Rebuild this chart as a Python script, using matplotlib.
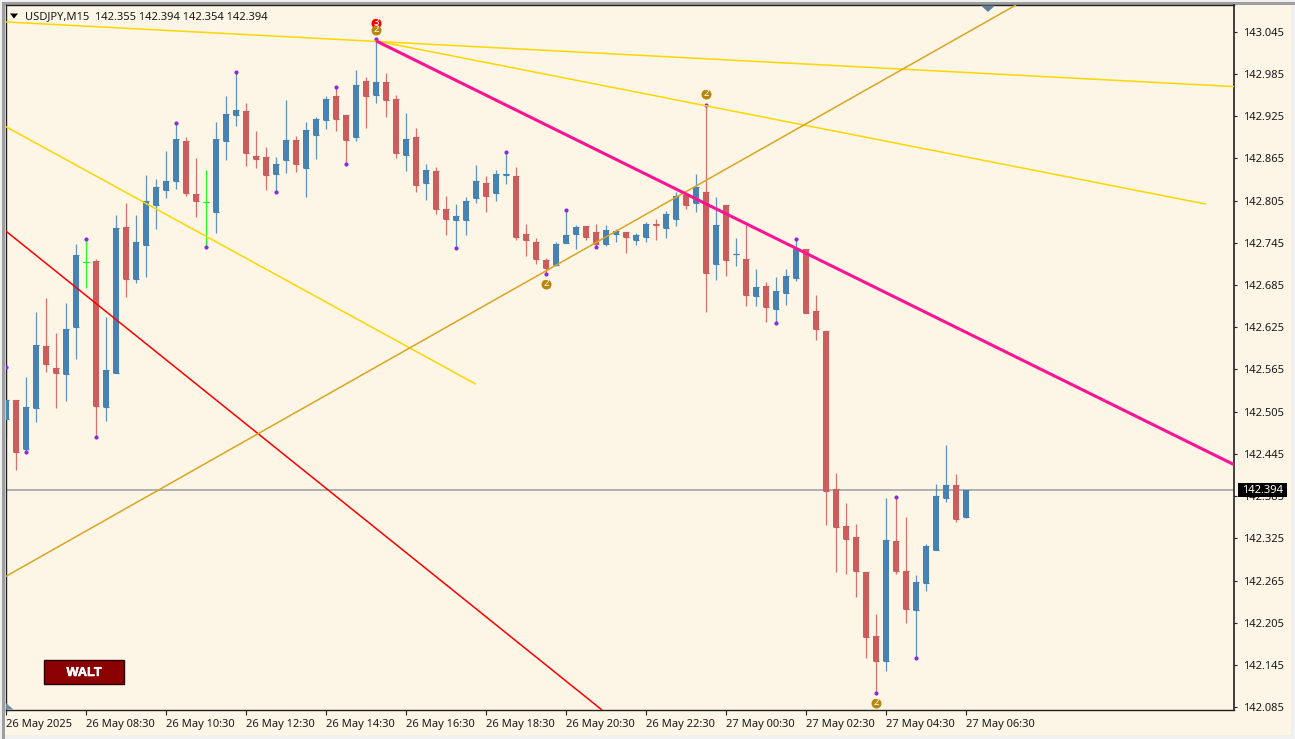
import matplotlib
matplotlib.use("Agg")
import matplotlib.pyplot as plt
import matplotlib.patheffects as pe
from matplotlib.patches import Rectangle, Polygon

W, H = 1295, 739

title_text = "USDJPY,M15  142.355 142.394 142.354 142.394"
last_price = 142.394

opens = [142.495,142.522,142.452,142.510,142.598,142.567,142.559,142.625,142.718,142.719,
         142.512,142.560,142.768,142.694,142.742,142.799,142.820,142.833,142.890,142.815,
         142.803,142.789,142.890,142.927,142.933,142.869,142.867,142.843,142.862,142.891,
         142.852,142.898,142.920,142.953,142.926,142.896,142.975,142.955,142.974,142.950,
         142.870,142.896,142.830,142.847,142.793,142.778,142.778,142.809,142.830,142.816,
         142.842,142.840,142.758,142.746,142.721,142.714,142.745,142.758,142.769,142.761,
         142.744,142.758,142.761,142.749,142.753,142.772,142.766,142.779,142.813,142.802,
         142.817,142.715,142.799,142.729,142.722,142.670,142.684,142.651,142.674,142.695,
         142.736,142.648,142.620,142.395,142.342,142.327,142.277,142.186,142.150,142.321,
         142.278,142.223,142.261,142.308,142.382,142.401,142.355]
highs = [142.569,142.522,142.554,142.647,142.667,142.617,142.660,142.744,142.751,142.722,
         142.640,142.785,142.802,142.785,142.842,142.836,142.876,142.916,142.896,142.866,
         142.849,142.917,142.953,142.988,142.944,142.904,142.881,142.867,142.948,142.897,
         142.917,142.924,142.953,142.967,142.926,142.990,142.980,143.034,142.987,142.955,
         142.930,142.908,142.857,142.853,142.812,142.800,142.810,142.856,142.840,142.849,
         142.874,142.853,142.772,142.752,142.724,142.746,142.792,142.771,142.769,142.772,
         142.771,142.765,142.761,142.759,142.775,142.779,142.790,142.817,142.816,142.843,
         142.941,142.810,142.799,142.752,142.771,142.708,142.689,142.697,142.708,142.751,
         142.736,142.671,142.620,142.418,142.375,142.345,142.277,142.217,142.382,142.384,
         142.355,142.273,142.317,142.402,142.458,142.416,142.394]
lows = [142.468,142.422,142.448,142.490,142.561,142.510,142.520,142.580,142.681,142.469,
        142.492,142.560,142.668,142.688,142.697,142.765,142.808,142.822,142.812,142.782,
        142.739,142.759,142.862,142.911,142.854,142.852,142.820,142.817,142.844,142.846,
        142.810,142.864,142.907,142.904,142.857,142.889,142.908,142.944,142.924,142.866,
        142.847,142.817,142.806,142.786,142.756,142.738,142.756,142.802,142.789,142.805,
        142.829,142.749,142.726,142.715,142.701,142.712,142.745,142.736,142.749,142.739,
        142.741,142.746,142.731,142.742,142.746,142.749,142.752,142.769,142.793,142.789,
        142.647,142.692,142.698,142.712,142.655,142.655,142.633,142.631,142.657,142.691,
        142.645,142.607,142.344,142.277,142.274,142.241,142.155,142.105,142.136,142.274,
        142.204,142.155,142.250,142.308,142.377,142.348,142.354]
closes = [142.522,142.448,142.512,142.600,142.573,142.560,142.623,142.728,142.718,142.513,
          142.564,142.766,142.694,142.746,142.805,142.825,142.833,142.893,142.816,142.805,
          142.803,142.893,142.928,142.934,142.872,142.864,142.842,142.857,142.891,142.857,
          142.906,142.921,142.950,142.921,142.891,142.970,142.954,142.974,142.948,142.872,
          142.893,142.827,142.849,142.793,142.779,142.783,142.805,142.833,142.812,142.843,
          142.843,142.753,142.749,142.722,142.709,142.744,142.756,142.768,142.753,142.744,
          142.763,142.762,142.753,142.756,142.772,142.771,142.786,142.812,142.799,142.825,
          142.702,142.771,142.721,142.729,142.671,142.682,142.654,142.677,142.698,142.736,
          142.645,142.623,142.392,142.341,142.324,142.278,142.185,142.150,142.322,142.278,
          142.224,142.263,142.314,142.385,142.401,142.352,142.394]
green_bars = [8, 20]
high_dots = [0, 8, 17, 23, 33, 37, 50, 56, 70, 79, 89]
low_dots = [2, 9, 20, 27, 34, 45, 54, 59, 77, 87, 91]

# signal badges: bar, price, number, colour name
badges = [(37, 143.058, "3", "red"), (37, 143.048, "2", "gold"), (54, 142.687, "2", "gold"),
          (70, 142.957, "2", "gold"), (87, 142.091, "2", "gold")]

# trend lines: (bar, price), (bar, price), colour, width
trend_lines = [
    ((-0.13, 143.059), (122.9, 142.967), "#FFD700", 1.1),
    ((37, 143.032), (120, 142.800), "#FFD700", 1.1),
    ((-0.13, 142.911), (47, 142.544), "#FFD700", 1.1),
    ((-0.13, 142.763), (59.6, 142.081), "#FF0000", 1.1),
    ((-0.13, 142.270), (101, 143.083), "#DAA520", 1.1),
    ((37, 143.032), (122.9, 142.429), "#FF1493", 2.2),
]

y_ticks = [143.045, 142.985, 142.925, 142.865, 142.805, 142.745, 142.685, 142.625, 142.565,
           142.505, 142.445, 142.385, 142.325, 142.265, 142.205, 142.145, 142.085]
x_ticks = list(range(0, 97, 8))
x_labels = ["26 May 2025", "26 May 08:30", "26 May 10:30", "26 May 12:30", "26 May 14:30",
            "26 May 16:30", "26 May 18:30", "26 May 20:30", "26 May 22:30", "27 May 00:30",
            "27 May 02:30", "27 May 04:30", "27 May 06:30"]

BG = "#FDF5E6"
UP = "#4682B4"
DOWN = "#CD5C5C"
GREEN = "#00FF00"
DOT = "#8A2BE2"
FONT = "Noto Sans"
FS = 8.0


def rect(x0, y0, x1, y1, **kw):
    return Rectangle((x0 / W, 1 - y1 / H), (x1 - x0) / W, (y1 - y0) / H,
                     transform=fig.transFigure, **kw)


fig = plt.figure(figsize=(W / 100, H / 100), dpi=100, facecolor="#F0F0F0")
fig.add_artist(rect(2, 2, W, 5, fc="#9E9E9E", ec="none", zorder=-5))
fig.add_artist(rect(2, 2, 5, H, fc="#9E9E9E", ec="none", zorder=-5))
fig.add_artist(rect(5, 5, 1291, 735, fc=BG, ec="none", zorder=-4))

ax = fig.add_axes([5.5 / W, 1 - 710 / H, (1234 - 5.5) / W, (710 - 5) / H], facecolor=BG, zorder=1)
ax.set_xlim(-0.05, 122.80)
ax.set_ylim(142.081, 143.083)
for s in ax.spines.values():
    s.set_color("#202020")
    s.set_linewidth(1.0)
ax.spines["right"].set_linewidth(1.2)

ax.axhline(last_price, color="#A0A4A8", lw=1.2, zorder=1)

for i, (o, h, l, c) in enumerate(zip(opens, highs, lows, closes)):
    col = GREEN if i in green_bars else (UP if c >= o else DOWN)
    ax.vlines(i, l, h, color=col, lw=0.9, alpha=0.85, zorder=2)
    ax.bar(i, abs(c - o), bottom=min(o, c), width=0.66, color=col, lw=0, zorder=3)
    ax.hlines([o, c], i - 0.33, i + 0.33, color=col, lw=0.8, zorder=3)

ax.scatter(high_dots, [highs[i] for i in high_dots], s=9, color=DOT, lw=0, zorder=4)
ax.scatter(low_dots, [lows[i] for i in low_dots], s=9, color=DOT, lw=0, zorder=4)

for p0, p1, col, lw in trend_lines:
    ax.plot([p0[0], p1[0]], [p0[1], p1[1]], color=col, lw=lw, zorder=5, solid_capstyle="butt")

for bar, price, num, cname in badges:
    fc = "#FF0000" if cname == "red" else "#B8860B"
    ax.scatter([bar], [price], s=52, color=fc, lw=0, zorder=6, clip_on=False)
    ax.text(bar, price, num, color="white", fontsize=7, fontweight="bold", family=FONT,
            ha="center", va="center", zorder=7)

ax.yaxis.tick_right()
ax.set_yticks(y_ticks)
ax.set_yticklabels([f"{v:.3f}" for v in y_ticks], family=FONT, fontsize=FS, color="#1a1a1a")
ax.tick_params(axis="y", length=2.2, width=0.8, pad=4.5, color="#202020")
ax.set_xticks(x_ticks)
ax.set_xticklabels(x_labels, family=FONT, fontsize=FS, color="#1a1a1a", ha="left")
ax.tick_params(axis="x", length=3.5, width=0.8, pad=3.2, color="#202020")

# header
fig.text(25 / W, 1 - 16.5 / H, title_text, family=FONT, fontsize=FS,
         color="#1a1a1a", va="center", ha="left", zorder=8)
fig.add_artist(Polygon([(10 / W, 1 - 13.5 / H), (18 / W, 1 - 13.5 / H), (14 / W, 1 - 18.5 / H)],
                       closed=True, transform=fig.transFigure, fc="black", ec="none", zorder=8))
# small chart shift markers
fig.add_artist(Polygon([(981 / W, 1 - 5.5 / H), (995 / W, 1 - 5.5 / H), (988 / W, 1 - 12 / H)],
                       closed=True, transform=fig.transFigure, fc="#5F7F99", ec="none", zorder=8))
fig.add_artist(Polygon([(6 / W, 1 - 703 / H), (13.5 / W, 1 - 709.5 / H), (6 / W, 1 - 709.5 / H)],
                       closed=True, transform=fig.transFigure, fc="#6F8CA5", ec="none", zorder=8))

# last price tag
fig.add_artist(rect(1238, 483, 1287, 497, fc="black", ec="none", zorder=10))
fig.text(1262.5 / W, 1 - 490.5 / H, f"{last_price:.3f}", color="white", family=FONT, fontsize=FS,
         ha="center", va="center", zorder=11)

# WALT button
fig.add_artist(rect(44, 660, 124, 684, fc="#8B0000", ec="#2a0000", lw=1.0, zorder=10))
walt = fig.text(84 / W, 1 - 673 / H, "WALT", color="white",
                family=["Liberation Sans Narrow", "Liberation Sans"], fontweight="bold",
                fontsize=9.2, ha="center", va="center", zorder=11)
walt.set_path_effects([pe.withStroke(linewidth=0.4, foreground="white")])

fig.savefig("out.png", dpi=100, facecolor=fig.get_facecolor())
